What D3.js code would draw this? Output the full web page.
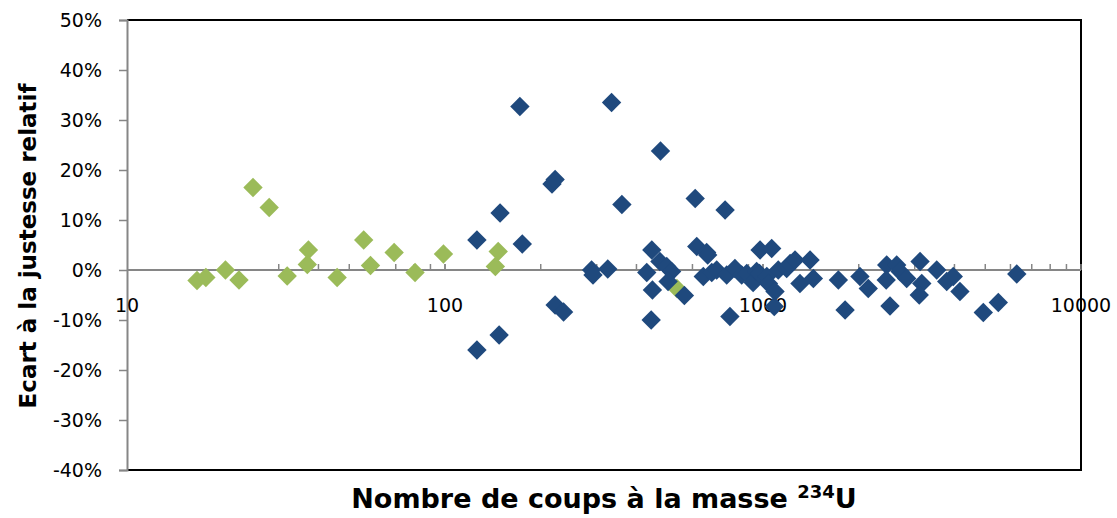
<!DOCTYPE html>
<html>
<head>
<meta charset="utf-8">
<script src="https://cdn.jsdelivr.net/npm/d3@7"></script>
<style>
  html, body { margin: 0; padding: 0; background: #fff; }
  svg { display: block; }
  text { font-family: "DejaVu Sans", "Liberation Sans", sans-serif; }
</style>
</head>
<body>
<svg id="chart" width="1117" height="518"></svg>
<script>
// Counts at mass 234 (log scale) and relative trueness deviation (%)
const greenCounts = [16.6, 17.7, 20.4, 22.5, 24.9, 28.0, 31.9, 37.2, 36.9, 45.8, 55.5, 58.3, 69.2, 80.5, 98.9, 147, 144, 536];
const greenDev    = [-2.1, -1.5, 0.0, -2.0, 16.5, 12.5, -1.2, 4.0, 1.1, -1.5, 6.0, 0.9, 3.5, -0.5, 3.2, 3.7, 0.7, -3.7];

const blueCounts = [126, 126, 149, 148, 172, 175, 217, 222, 222, 236,
                    289, 292, 325, 334, 360, 431, 447, 449, 445, 476,
                    474, 498, 516, 503, 566, 612, 619, 665, 670, 649,
                    690, 715, 760, 769, 787, 816, 857, 889, 931, 955,
                    979, 975, 1028, 1040, 1065, 1091, 1085, 1117, 1187, 1217,
                    1261, 1307, 1406, 1440, 1726, 1812, 2018, 2143, 2449, 2440,
                    2508, 2633, 2698, 2831, 3118, 3157, 3100, 3518, 3782, 3966,
                    4162, 4929, 5495, 6281];
const blueDev    = [6.0, -16.0, 11.4, -13.0, 32.7, 5.2, 17.2, 18.1, -7.0, -8.4,
                    0.0, -1.0, 0.2, 33.5, 13.1, -0.5, 4.0, -4.0, -10.0, 23.8,
                    1.7, 0.7, -0.3, -2.3, -5.1, 14.3, 4.7, 3.5, 3.0, -1.3,
                    -0.5, 0.0, 12.0, -1.0, -9.3, 0.3, -1.0, -0.7, -2.5, -0.3,
                    4.0, -0.7, -1.3, -2.7, 4.3, -4.3, -7.3, 0.0, 0.3, 1.3,
                    2.0, -2.7, 2.0, -1.7, -2.0, -8.0, -1.3, -3.7, 1.0, -2.0,
                    -7.2, 1.0, -0.3, -1.7, 1.7, -2.7, -5.0, 0.0, -2.3, -1.3,
                    -4.3, -8.5, -6.5, -0.8];

const xTicks = [10, 100, 1000, 10000];
const yTicks = [-40, -30, -20, -10, 0, 10, 20, 30, 40, 50];

const xTitle = "Nombre de coups à la masse ";
const xTitleSup = "234";
const xTitleEnd = "U";
const yTitle = "Ecart à la justesse relatif";

const svg = d3.select("#chart");
const plot = { left: 127, right: 1081, top: 20, bottom: 470 };

const x = d3.scaleLog().domain([10, 10000]).range([plot.left, plot.right]);
const y = d3.scaleLinear().domain([-40, 50]).range([plot.bottom, plot.top]);

// Plot frame (top, right, bottom)
svg.append("path")
  .attr("d", `M${plot.left},${plot.top}H${plot.right}V${plot.bottom}H${plot.left}`)
  .attr("fill", "none").attr("stroke", "#000").attr("stroke-width", 2);

// Vertical axis
const yAxis = d3.axisLeft(y).tickValues(yTicks).tickSize(8).tickPadding(17)
  .tickFormat(d => d + "%");
const gy = svg.append("g").attr("transform", `translate(${plot.left},0)`).call(yAxis);
gy.select(".domain").attr("stroke", "#868686").attr("stroke-width", 2);
gy.selectAll(".tick line").attr("stroke", "#868686").attr("stroke-width", 1.5);
gy.selectAll(".tick text").attr("font-size", 19).attr("fill", "#000")
  .attr("font-family", "DejaVu Sans");

// Horizontal axis crossing at 0 %, minor ticks pointing up
const minor = [];
for (let dec = 10; dec < 10000; dec *= 10) for (let k = 1; k <= 10; k++) minor.push(dec * k);
const gx = svg.append("g").attr("transform", `translate(0,${y(0)})`);
gx.append("line").attr("x1", plot.left).attr("x2", plot.right)
  .attr("stroke", "#868686").attr("stroke-width", 2);
gx.selectAll("line.mt").data(minor.filter(v => v > 10)).join("line").attr("class", "mt")
  .attr("x1", d => x(d)).attr("x2", d => x(d)).attr("y1", 0).attr("y2", -6)
  .attr("stroke", "#868686").attr("stroke-width", 1.5);
gx.selectAll("text").data(xTicks).join("text")
  .attr("x", d => x(d)).attr("y", 42)
  .attr("text-anchor", "middle").attr("font-size", 19).attr("fill", "#000")
  .text(d => d);

// Diamond markers
const r = 9.7;
const diamond = `M0,${-r}L${r},0L0,${r}L${-r},0Z`;
const green = greenCounts.map((c, i) => ({ c, v: greenDev[i] }));
const blue = blueCounts.map((c, i) => ({ c, v: blueDev[i] }));

svg.append("g").selectAll("path").data(green).join("path")
  .attr("d", diamond).attr("fill", "#9BBB59")
  .attr("transform", d => `translate(${x(d.c)},${y(d.v)})`);
svg.append("g").selectAll("path").data(blue).join("path")
  .attr("d", diamond).attr("fill", "#1F497D")
  .attr("transform", d => `translate(${x(d.c)},${y(d.v)})`);

// Axis titles
const xt = svg.append("text")
  .attr("x", 604).attr("y", 508).attr("text-anchor", "middle")
  .attr("font-size", 27).attr("font-weight", "bold").attr("fill", "#000");
xt.append("tspan").text(xTitle);
xt.append("tspan").attr("font-size", 18).attr("dy", -10).text(xTitleSup);
xt.append("tspan").attr("dy", 10).text(xTitleEnd);

svg.append("text")
  .attr("transform", `translate(36,246) rotate(-90)`)
  .attr("text-anchor", "middle").attr("font-size", 23).attr("font-weight", "bold")
  .attr("fill", "#000").text(yTitle);
</script>
</body>
</html>
